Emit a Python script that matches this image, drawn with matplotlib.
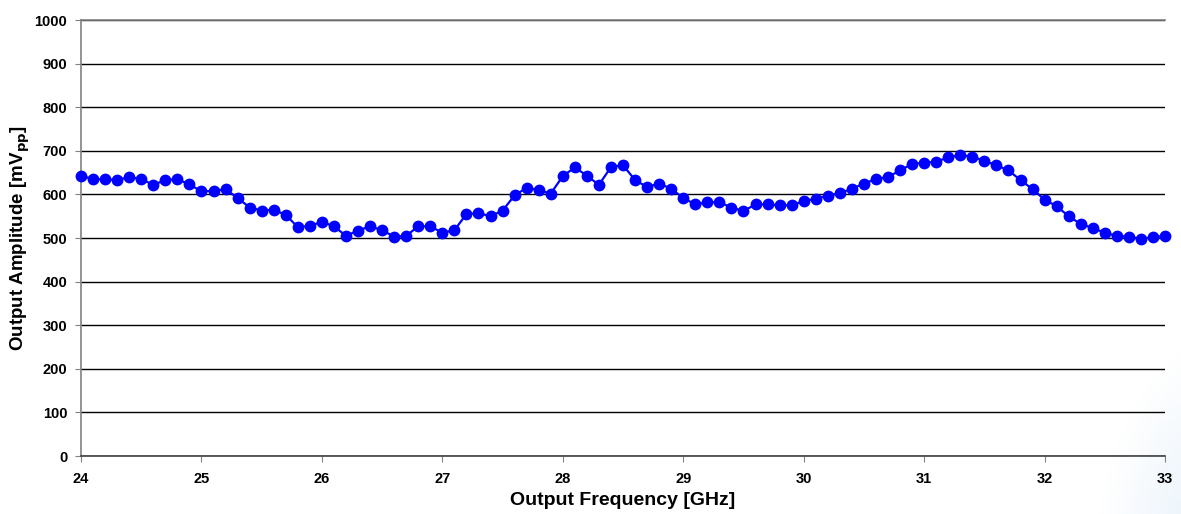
import numpy as np
import matplotlib.pyplot as plt

freq = np.round(np.arange(24.0, 33.01, 0.1), 1)
amp = [643, 635, 635, 633, 640, 635, 622, 633, 635, 623,
       607, 608, 612, 592, 570, 563, 565, 553, 525, 528,
       537, 527, 505, 517, 527, 518, 503, 505, 527, 527,
       512, 518, 555, 557, 550, 563, 598, 615, 610, 602,
       642, 662, 643, 622, 663, 667, 633, 617, 625, 613,
       592, 577, 582, 582, 570, 562, 577, 577, 575, 575,
       585, 590, 597, 603, 613, 625, 635, 640, 655, 670,
       673, 675, 685, 690, 687, 677, 667, 655, 633, 612,
       588, 573, 550, 532, 523, 512, 505, 503, 498, 502,
       505]

plt.rcParams['font.family'] = ['Liberation Sans', 'DejaVu Sans']
plt.rcParams['font.weight'] = 'bold'

fig = plt.figure(figsize=(11.81, 5.14), dpi=100)

# light blue shading in the lower right corner
bg = fig.add_axes([0, 0, 1, 1], zorder=-1)
gx, gy = np.meshgrid(np.linspace(0, 1, 300), np.linspace(0, 1, 150))
d = np.sqrt(((gx - 1.05) / 0.12) ** 2 + ((gy + 0.1) / 0.45) ** 2)
shade = np.clip(1 - d, 0, 1) * 0.35
img = np.ones((150, 300, 3))
img[..., 0] -= shade * 0.35
img[..., 1] -= shade * 0.2
img[..., 2] -= shade * 0.05
bg.imshow(img, origin='lower', extent=[0, 1, 0, 1], aspect='auto')
bg.axis('off')

ax = fig.add_axes([0.0686, 0.1128, 0.9179, 0.8482])
ax.patch.set_alpha(0)
ax.plot(freq, amp, color='#0000FF', lw=1.6, marker='o', ms=8.5,
        markeredgewidth=0, zorder=3, clip_on=False)

ax.set_xlim(24, 33)
ax.set_ylim(0, 1000)
ax.set_xticks(range(24, 34))
ax.set_yticks(range(0, 1001, 100))
ax.yaxis.grid(True, color='black', lw=1)
ax.set_axisbelow(True)
ax.spines['right'].set_visible(False)
ax.spines['top'].set_color('#808080')
ax.spines['left'].set_color('#808080')
ax.spines['bottom'].set_color('#404040')
for s in ['top', 'left', 'bottom']:
    ax.spines[s].set_linewidth(1.2)
ax.tick_params(axis='both', direction='out', length=4, color='#808080',
               labelsize=10.5)
ax.tick_params(axis='x', pad=7.5)
ax.tick_params(axis='y', pad=6)

ax.set_xlabel('Output Frequency [GHz]', fontsize=14, fontweight='bold',
              labelpad=4)
ax.set_ylabel('Output Amplitude [mV$_{\\mathbf{pp}}$]', fontsize=13.5,
              fontweight='bold', labelpad=1.5)

fig.savefig('out.png', dpi=100)
